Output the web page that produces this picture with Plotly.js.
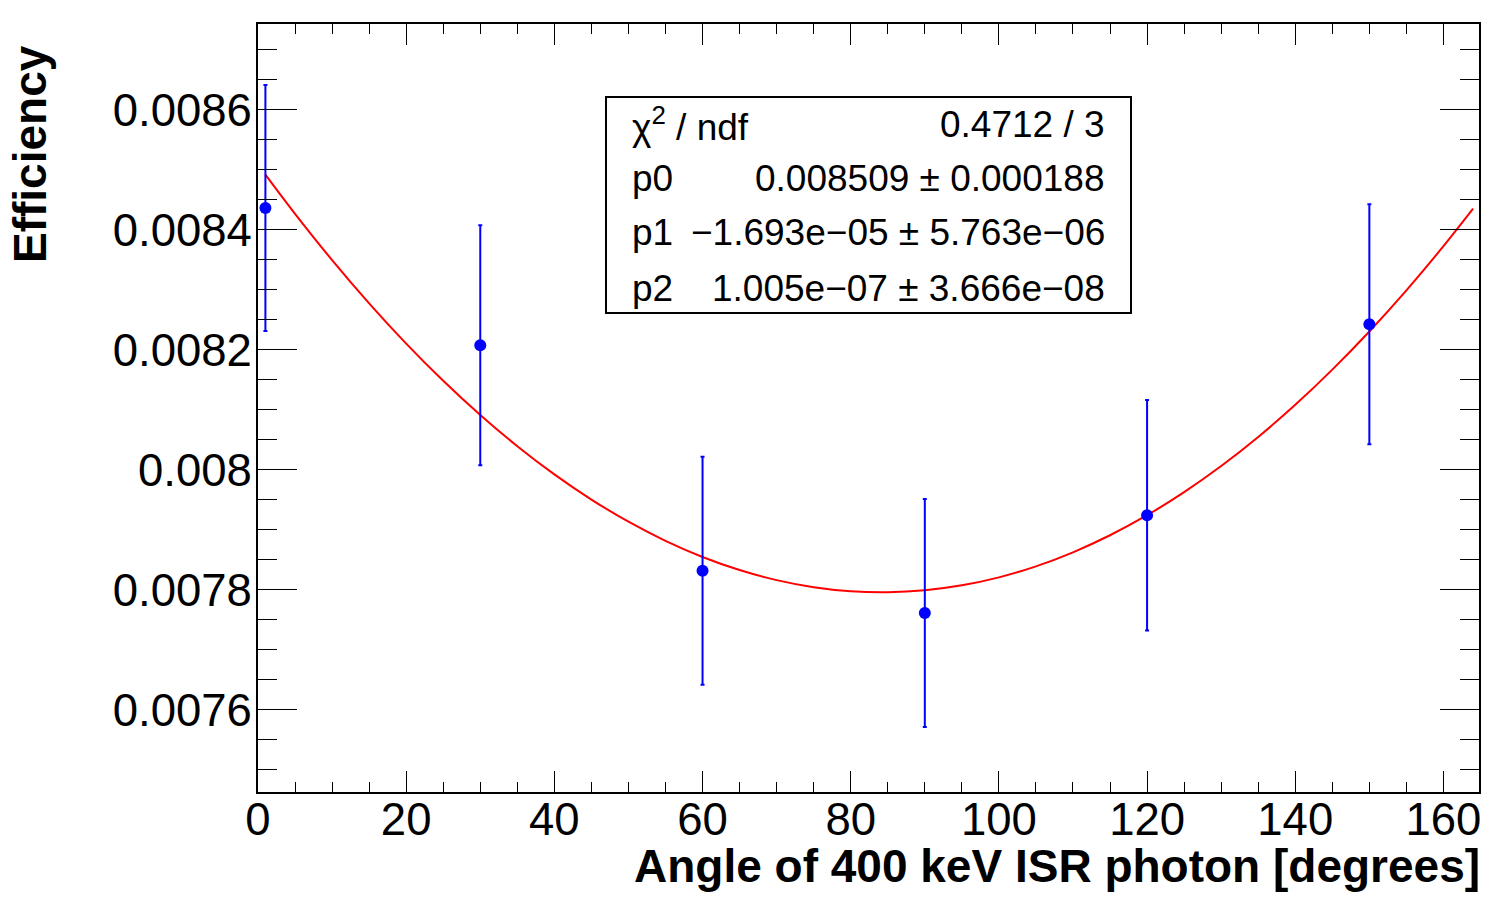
<!DOCTYPE html>
<html>
<head>
<meta charset="utf-8">
<script src="https://cdn.plot.ly/plotly-3.0.1.min.js"></script>
<style>
  html, body { margin: 0; padding: 0; background: #fff; }
  #chart { width: 1504px; height: 906px; }
</style>
</head>
<body>
<div id="chart"></div>
<script>
/*
 Data
*/

var angles = [1, 30, 60, 90, 120, 150];
var efficiency = [0.0084365, 0.0082080, 0.0078320, 0.0077615, 0.0079245, 0.0082430];
var efficiencyErr = [0.000205, 0.000200, 0.000190, 0.000190, 0.000192, 0.000200];

// pol2 fit curve, sampled along the drawn line
var fitX = [1, 5, 10, 15, 20, 25, 30, 35, 40, 45, 50, 55, 60, 65, 70, 75, 80,
            85, 90, 95, 100, 105, 110, 115, 120, 125, 130, 135, 140, 145, 150,
            155, 160, 164];
var fitY = [0.0084922, 0.0084269, 0.0083498, 0.0082777, 0.0082106, 0.0081486,
            0.0080916, 0.0080396, 0.0079926, 0.0079507, 0.0079138, 0.0078819,
            0.0078550, 0.0078332, 0.0078164, 0.0078046, 0.0077978, 0.0077961,
            0.0077994, 0.0078077, 0.0078210, 0.0078394, 0.0078628, 0.0078912,
            0.0079246, 0.0079631, 0.0080066, 0.0080551, 0.0081086, 0.0081672,
            0.0082308, 0.0082994, 0.0083730, 0.0084355];

var statLabels = ["χ<sup>2</sup> / ndf", "p0", "p1", "p2"];
var statValues = ["0.4712 / 3", "0.008509 ± 0.000188",
                  "−1.693e−05 ± 5.763e−06", "1.005e−07 ± 3.666e−08"];

/*
 Traces
*/

var points = {
  x: angles,
  y: efficiency,
  error_y: {
    type: "data",
    array: efficiencyErr,
    visible: true,
    color: "#0000ff",
    thickness: 2,
    width: 2
  },
  mode: "markers",
  type: "scatter",
  marker: { color: "#0000ff", size: 12 },
  cliponaxis: false
};

var fit = {
  x: fitX,
  y: fitY,
  mode: "lines",
  type: "scatter",
  line: { color: "#ff0000", width: 2, shape: "spline" }
};

var data = [fit, points];

/*
 Layout
*/

var W = 1504, H = 906;
var L = 258, R = 25, T = 24, B = 114;
var plotW = W - L - R, plotH = H - T - B;
// pixel -> paper helpers for the stats box and titles
function px(x) { return (x - L) / plotW; }
function py(y) { return (H - B - y) / plotH; }

var tickFont = { family: "Liberation Sans, Arial, sans-serif", size: 45.5, color: "black" };
var titleFont = { family: "Liberation Sans, Arial, sans-serif", size: 46, color: "black" };
var statFont = { family: "Liberation Sans, Arial, sans-serif", size: 37, color: "black" };

var annotations = [
  {
    text: "<b>Angle of 400 keV ISR photon [degrees]</b>",
    xref: "paper", yref: "paper",
    x: px(1482), y: py(866),
    xanchor: "right", yanchor: "middle",
    showarrow: false, font: titleFont
  },
  {
    text: "<b>Efficiency</b>",
    xref: "paper", yref: "paper",
    x: px(30), y: py(43),
    xanchor: "center", yanchor: "top",
    textangle: -90,
    showarrow: false, font: titleFont
  }
];

var rowY = [124, 179, 233, 288];
for (var i = 0; i < statLabels.length; i++) {
  annotations.push({
    text: statLabels[i], xref: "paper", yref: "paper",
    x: px(630), y: py(rowY[i]), xanchor: "left", yanchor: "middle",
    showarrow: false, font: statFont
  });
  annotations.push({
    text: statValues[i], xref: "paper", yref: "paper",
    x: px(1107), y: py(rowY[i]), xanchor: "right", yanchor: "middle",
    showarrow: false, font: statFont
  });
}

var layout = {
  width: W,
  height: H,
  margin: { l: L, r: R, t: T, b: B },
  paper_bgcolor: "white",
  plot_bgcolor: "white",
  showlegend: false,
  xaxis: {
    range: [0, 164.8],
    dtick: 20,
    tick0: 0,
    tickformat: "d",
    ticks: "inside",
    ticklen: 21,
    tickwidth: 1,
    tickcolor: "black",
    ticklabelstandoff: -14,
    minor: { ticks: "inside", dtick: 5, ticklen: 10, tickwidth: 1, tickcolor: "black" },
    showline: true,
    linewidth: 2,
    linecolor: "black",
    mirror: "allticks",
    showgrid: false,
    zeroline: false,
    tickfont: tickFont
  },
  yaxis: {
    range: [0.0074633, 0.0087433],
    dtick: 0.0002,
    tick0: 0,
    tickformat: ".4~f",
    ticks: "inside",
    ticklen: 39,
    tickwidth: 1,
    tickcolor: "black",
    ticklabelstandoff: -5,
    minor: { ticks: "inside", dtick: 0.00005, ticklen: 19, tickwidth: 1, tickcolor: "black" },
    showline: true,
    linewidth: 2,
    linecolor: "black",
    mirror: "allticks",
    showgrid: false,
    zeroline: false,
    tickfont: tickFont
  },
  shapes: [
    {
      type: "rect", xref: "paper", yref: "paper",
      x0: px(606), x1: px(1131), y0: py(313), y1: py(97),
      line: { color: "black", width: 2 },
      fillcolor: "white",
      layer: "below"
    }
  ],
  annotations: annotations
};

var config = {
  displayModeBar: false,
  staticPlot: true
};

Plotly.newPlot("chart", data, layout, config);
</script>
</body>
</html>
